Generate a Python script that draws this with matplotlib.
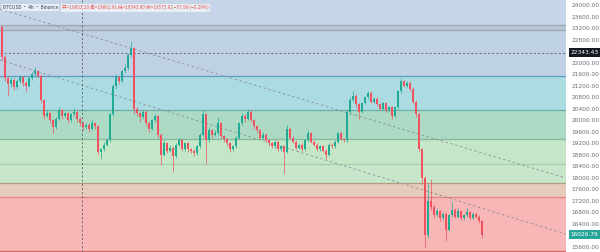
import matplotlib
matplotlib.use("Agg")
import matplotlib.pyplot as plt
import numpy as np

# ---------------- data ----------------
first_open = 23250
closes = [22200, 21450, 21250, 21400, 21150, 21350, 21500, 21300, 21200, 21450,
          21600, 21700, 21550, 20700, 20150, 20250, 20000, 19750, 20050, 20350,
          20150, 20250, 20000, 20200, 20300, 20050, 19900, 19750, 19850, 19700,
          19900, 19800, 18900, 19000, 19150, 19300, 20200, 21200, 21500, 21350,
          21700, 21800, 22250, 22500, 20400, 20250, 20100, 20300, 19900, 19700,
          20000, 20150, 19500, 18800, 19200, 18950, 19050, 18750, 19150, 19300,
          19000, 19200, 19000, 18950, 18850, 19100, 19500, 20200, 19300, 19650,
          19500, 19550, 19900, 19450, 19350, 19200, 19000, 19100, 19400, 19900,
          20150, 20050, 20300, 20000, 19800, 19650, 19400, 19500, 19300, 19200,
          19100, 19250, 19000, 19100, 18900, 19700, 19400, 19250, 19050, 19150,
          19000, 19300, 19550, 19250, 19150, 19000, 19100, 18950, 18800, 19150,
          19100, 19250, 19550, 19350, 19300, 20300, 20700, 20850, 20550, 20300,
          20600, 20800, 20950, 20650, 20750, 20550, 20400, 20600, 20350, 20450,
          20150, 20450, 21000, 21350, 21200, 21300, 21100, 20650, 20200, 19000,
          18000, 16000, 17200, 17000, 16700, 16850, 16600, 16750, 16200, 16700,
          16900, 16650, 16850, 16600, 16700, 16800, 16600, 16750, 16650, 16500,
          16026.79]
highs = [23300, 22250, 21550, 21500, 21450, 21420, 21580, 21550, 21350, 21500,
         21680, 21850, 21750, 21600, 20750, 20350, 20300, 20050, 20100, 20450,
         20400, 20300, 20280, 20250, 20420, 20350, 20100, 19950, 19920, 19900,
         20000, 19950, 19850, 19050, 19250, 19400, 20250, 21250, 21600, 21550,
         21750, 21950, 22350, 22750, 22550, 20450, 20300, 20350, 20350, 19950,
         20050, 20200, 20180, 19550, 19300, 19250, 19150, 19100, 19200, 19400,
         19350, 19250, 19250, 19050, 19000, 19150, 19550, 20350, 20250, 19750,
         19700, 19650, 20100, 19950, 19500, 19400, 19250, 19150, 19450, 19950,
         20250, 20200, 20400, 20350, 20050, 19850, 19700, 19600, 19550, 19350,
         19250, 19300, 19300, 19150, 19150, 19850, 19750, 19450, 19300, 19200,
         19200, 19350, 19650, 19600, 19300, 19200, 19150, 19150, 19000, 19200,
         19200, 19300, 19600, 19600, 19400, 20350, 20800, 21000, 20900, 20600,
         20650, 20850, 21000, 21000, 20800, 20800, 20600, 20650, 20650, 20500,
         20500, 20500, 21050, 21450, 21400, 21350, 21350, 21150, 20700, 20250,
         19050, 18050, 17800, 17950, 17100, 16950, 16900, 16800, 16800, 16750,
         17150, 16950, 16950, 16900, 16750, 16950, 16850, 16800, 16800, 16700,
         16550]
lows = [22100, 21350, 20850, 21150, 21050, 21100, 21300, 21200, 21000, 21150,
        21400, 21550, 21450, 20600, 20050, 20100, 19900, 19550, 19700, 20000,
        20050, 20100, 19900, 19950, 20150, 19950, 19800, 19650, 19700, 19600,
        19650, 19700, 18800, 18650, 18950, 19100, 19250, 20150, 21100, 21250,
        21300, 21650, 21750, 22200, 20200, 20150, 19950, 20050, 19800, 19600,
        19650, 19950, 19400, 18450, 18750, 18850, 18900, 18200, 18700, 19100,
        18950, 18950, 18900, 18850, 18750, 18800, 19050, 19450, 18500, 19250,
        19400, 19450, 19500, 19400, 19250, 19100, 18900, 18950, 19050, 19350,
        19850, 19950, 20000, 19950, 19700, 19550, 19350, 19350, 19250, 19100,
        19050, 19050, 18950, 18950, 18150, 18850, 19350, 19200, 19000, 19000,
        18950, 18950, 19250, 19200, 19100, 18950, 18950, 18900, 18650, 18750,
        19050, 19050, 19200, 19300, 19250, 19250, 20250, 20650, 20450, 20050,
        20250, 20550, 20750, 20600, 20600, 20500, 20350, 20350, 20300, 20300,
        20050, 20100, 20400, 20950, 21150, 21150, 21000, 20550, 20100, 18900,
        17800, 15600, 15900, 16900, 16600, 16650, 16500, 16550, 15800, 16150,
        16650, 16600, 16600, 16550, 16550, 16650, 16550, 16550, 16600, 16450,
        15900]
opens = [first_open] + closes[:-1]

y_ticks = list(range(15600, 24001, 400))
band_levels = [23306, 23132, 21536, 20355, 19349, 18481, 17822, 17336, 15461]
band_colors = ["#c6d6e8", "#b9c7d6", "#bfd1e4", "#acdbe2", "#acdac4",
               "#c6e6c8", "#c8e7ca", "#e6cabb", "#f8b6b6"]
line_colors = ["#9aa6b2", "#9aa6b2", "#5b9fc4", "#6aaea6", "#84b99b",
               "#a6cda8", "#b59a80", "#e38383", "#d36a6a"]
crosshair_x = 26.67
crosshair_price = 22343.43
trend_upper = ([-0.667, 188.0], [23860, 17995])
trend_lower = ([-0.667, 188.0], [22091, 16051])
title_main = "BTCUSD · 4h · Binance"
title_ohlc = "开=19853.20 高=19861.91 低=19543.00 收=19573.92 −57.99 (−0.29%)"

# ---------------- figure ----------------
W, H = 600, 252
fig = plt.figure(figsize=(W / 100, H / 100), dpi=100)
fig.patch.set_facecolor("white")
ax = fig.add_axes([0, 0, 566 / W, 1])
ymin, ymax = 15427, 24174
ax.set_ylim(ymin, ymax)
ax.set_xlim(-0.667, 188.0)

# bands
edges = [ymax] + band_levels
for i in range(len(band_levels)):
    ax.axhspan(edges[i + 1], edges[i], color=band_colors[i], lw=0, zorder=0)
ax.axhspan(ymin, band_levels[-1], color="white", lw=0, zorder=0)
for lv, c in zip(band_levels, line_colors):
    ax.axhline(lv, color=c, lw=0.9, zorder=1)

# trend lines & crosshair
ax.plot(*trend_upper, color="#8a8f99", lw=0.6, ls=(0, (3, 3)), zorder=2)
ax.plot(*trend_lower, color="#8a8f99", lw=0.6, ls=(0, (3, 3)), zorder=2)
ax.axvline(crosshair_x, color="#5a5e68", lw=0.6, ls=(0, (2.5, 2.5)), zorder=2)
ax.axhline(crosshair_price, color="#5a5e68", lw=0.6, ls=(0, (2.5, 2.5)), zorder=2)

# candles
x = np.arange(len(closes))
o = np.array(opens, float)
c = np.array(closes, float)
h = np.array(highs, float)
l = np.array(lows, float)
up = c >= o
cols = np.where(up, "#22ab94", "#f0525f")
ax.vlines(x, l, h, colors=cols, lw=0.5, zorder=3)
ax.bar(x, np.maximum(np.abs(c - o), 15), bottom=np.minimum(o, c), width=0.6,
       color=cols, lw=0, zorder=4)

# axes styling
for s in ax.spines.values():
    s.set_visible(False)
ax.set_xticks([])
ax.yaxis.tick_right()
ax.set_yticks(y_ticks)
ax.set_yticklabels([f"{v:.2f}" for v in y_ticks])
ax.tick_params(axis="y", length=0, pad=4, labelsize=4.2, labelcolor="#6a6d78")

# highlighted axis labels
ax.annotate(f"{crosshair_price:.2f}", xy=(1, crosshair_price),
            xycoords=("axes fraction", "data"), xytext=(3.2, 0),
            textcoords="offset points", ha="left", va="center",
            fontsize=4.2, color="white", annotation_clip=False, zorder=10,
            bbox=dict(boxstyle="square,pad=0.3", fc="#131722", ec="none"))
ax.annotate(f"{closes[-1]:.2f}", xy=(1, closes[-1]),
            xycoords=("axes fraction", "data"), xytext=(3.2, 0),
            textcoords="offset points", ha="left", va="center",
            fontsize=4.2, color="white", annotation_clip=False, zorder=10,
            bbox=dict(boxstyle="square,pad=0.3", fc="#26a69a", ec="none"))

# title
fam = ["Noto Sans CJK SC", "DejaVu Sans"]
t1 = ax.text(0.005, 0.97, title_main, transform=ax.transAxes, ha="left",
             va="center", fontsize=3.4, color="#3b3e47", family=fam, zorder=11,
             bbox=dict(boxstyle="square,pad=0.25", fc="white", ec="none", alpha=0.6))
ax.annotate(title_ohlc, xy=(1, 0.5), xycoords=t1, xytext=(3, 0),
            textcoords="offset points", ha="left", va="center", fontsize=3.4,
            color="#ef5350", family=fam, zorder=11,
            bbox=dict(boxstyle="square,pad=0.25", fc="white", ec="none", alpha=0.6))

fig.savefig("out.png", dpi=100)
